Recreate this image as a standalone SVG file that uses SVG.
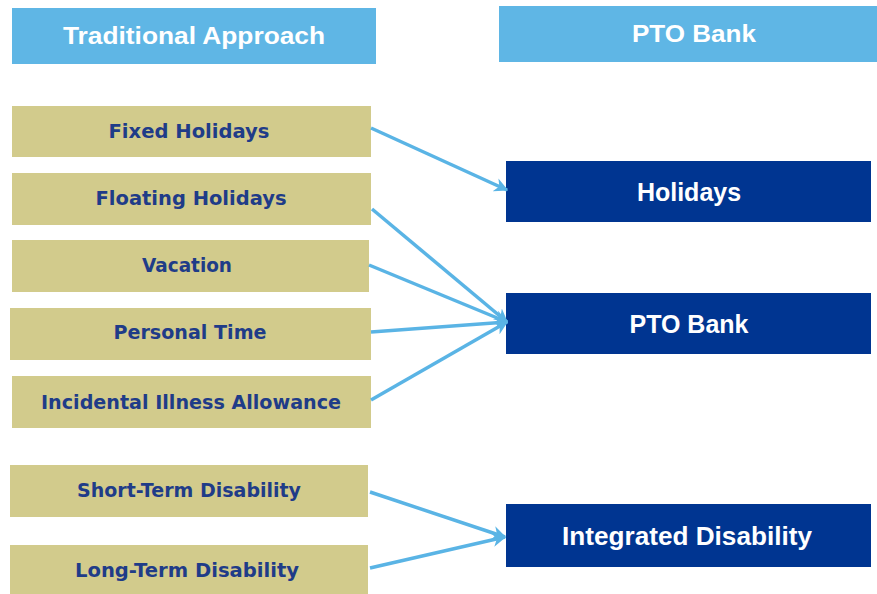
<svg xmlns="http://www.w3.org/2000/svg" width="877" height="594" viewBox="0 0 877 594">
<style>
.hdr{fill:#5FB6E5}
.tan{fill:#D2CB8C}
.dk{fill:#003591}
.ht{font-family:"Liberation Sans",Arial,sans-serif;font-size:23px;fill:#fff;text-anchor:middle;font-weight:bold}
.tt{font-family:"DejaVu Sans",sans-serif;font-size:19px;fill:#1F3C88;text-anchor:middle;font-weight:bold}
.dt{font-family:"Liberation Sans",Arial,sans-serif;font-size:25px;fill:#fff;text-anchor:middle;font-weight:bold}
.c{stroke:#5AB4E5;stroke-width:3.5;fill:none}
</style>
<defs>
<marker id="ah" viewBox="0 0 10 10" refX="9" refY="5" markerWidth="4" markerHeight="4" orient="auto" markerUnits="strokeWidth">
<path d="M0,0 L10,5 L0,10 L3,5 Z" fill="#5AB4E5"/>
</marker>
</defs>
<rect width="877" height="594" fill="#fff"/>
<g id="hdr-left"><rect class="hdr" x="12" y="8" width="364" height="56"/><text class="ht" x="194" y="44" textLength="262" lengthAdjust="spacingAndGlyphs">Traditional Approach</text></g>
<g id="hdr-right"><rect class="hdr" x="499" y="6" width="378" height="56"/><text class="ht" x="694" y="42" textLength="124" lengthAdjust="spacingAndGlyphs">PTO Bank</text></g>
<g id="n-fixed"><rect class="tan" x="12" y="106" width="359" height="51"/><text class="tt" x="189" y="138" textLength="161" lengthAdjust="spacingAndGlyphs">Fixed Holidays</text></g>
<g id="n-floating"><rect class="tan" x="12" y="173" width="359" height="52"/><text class="tt" x="191" y="205" textLength="191" lengthAdjust="spacingAndGlyphs">Floating Holidays</text></g>
<g id="n-vacation"><rect class="tan" x="12" y="240" width="357" height="52"/><text class="tt" x="187" y="272" textLength="90" lengthAdjust="spacingAndGlyphs">Vacation</text></g>
<g id="n-personal"><rect class="tan" x="10" y="308" width="361" height="52"/><text class="tt" x="190" y="339" textLength="153" lengthAdjust="spacingAndGlyphs">Personal Time</text></g>
<g id="n-incidental"><rect class="tan" x="12" y="376" width="359" height="52"/><text class="tt" x="191" y="409" textLength="300" lengthAdjust="spacingAndGlyphs">Incidental Illness Allowance</text></g>
<g id="n-std"><rect class="tan" x="10" y="465" width="358" height="52"/><text class="tt" x="189" y="497" textLength="224" lengthAdjust="spacingAndGlyphs">Short-Term Disability</text></g>
<g id="n-ltd"><rect class="tan" x="10" y="545" width="358" height="52"/><text class="tt" x="187" y="577" textLength="224" lengthAdjust="spacingAndGlyphs">Long-Term Disability</text></g>
<g id="n-holidays"><rect class="dk" x="506" y="161" width="365" height="61"/><text class="dt" x="689" y="201">Holidays</text></g>
<g id="n-pto"><rect class="dk" x="506" y="293" width="365" height="61"/><text class="dt" x="689" y="333">PTO Bank</text></g>
<g id="n-integrated"><rect class="dk" x="506" y="504" width="365" height="63"/><text class="dt" x="687" y="545" textLength="250" lengthAdjust="spacingAndGlyphs">Integrated Disability</text></g>
<g id="connectors">
<line class="c" x1="371" y1="128" x2="507" y2="190" marker-end="url(#ah)"/>
<line class="c" x1="372" y1="209" x2="507" y2="322" marker-end="url(#ah)"/>
<line class="c" x1="369" y1="265" x2="507" y2="322" marker-end="url(#ah)"/>
<line class="c" x1="371" y1="332" x2="507" y2="322" marker-end="url(#ah)"/>
<line class="c" x1="371" y1="400" x2="507" y2="322" marker-end="url(#ah)"/>
<line class="c" x1="370" y1="492" x2="505" y2="537" marker-end="url(#ah)"/>
<line class="c" x1="370" y1="568" x2="505" y2="537" marker-end="url(#ah)"/>
</g>
</svg>
